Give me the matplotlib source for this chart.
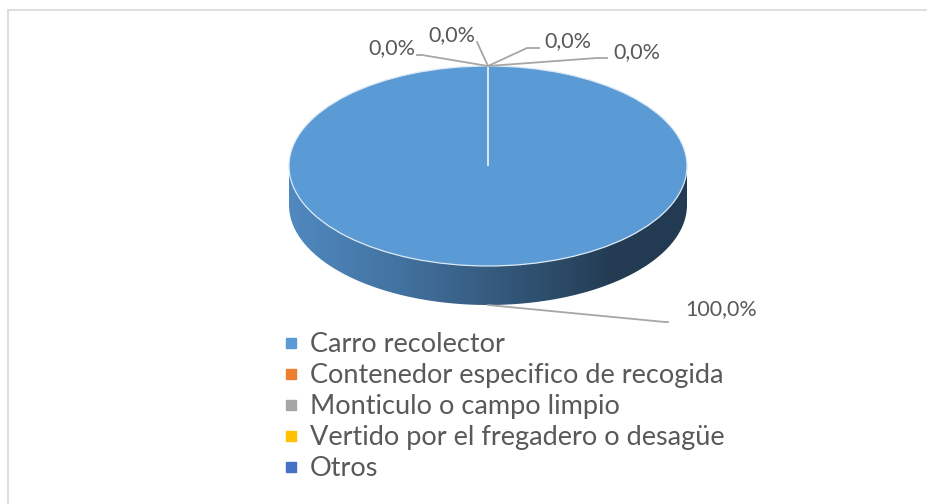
import numpy as np
import matplotlib
matplotlib.use('Agg')
import matplotlib.pyplot as plt
from matplotlib.lines import Line2D
from matplotlib.patches import Polygon
from matplotlib.colors import LinearSegmentedColormap

categories = ['Carro recolector', 'Contenedor especifico de recogida',
              'Monticulo o campo limpio', 'Vertido por el fregadero o desagüe', 'Otros']
values = [100.0, 0.0, 0.0, 0.0, 0.0]
colors = ['#5B9BD5', '#ED7D31', '#A5A5A5', '#FFC000', '#4472C4']

W, H = 928, 504
CX, CY = 488, 166      # pie centre, pixels from top-left
RX, RY = 199, 100      # ellipse radii in pixels
DEPTH = 0.39           # side height, in units of RY

plt.rcParams['font.family'] = ['Lato', 'DejaVu Sans']
TXT = '#595959'

fig = plt.figure(figsize=(W / 100, H / 100), dpi=100)
ax = fig.add_axes([0, 0, 1, 1])

def px(x, y):
    # pixel (from top-left) -> data coords
    return (x - CX) / RX, (CY - y) / RY

wedges, _ = ax.pie(values, colors=colors, startangle=90, counterclock=False,
                   radius=1, wedgeprops=dict(edgecolor='#dbe8f5', linewidth=0.9))
for w in wedges:
    w.set_zorder(3)
ax.set_aspect('auto')
x0, y0 = px(0, H)
x1, y1 = px(W, 0)
ax.set_xlim(x0, x1)
ax.set_ylim(y0, y1)
ax.axis('off')

# side of the 3D disc
t = np.linspace(np.pi, 2 * np.pi, 200)
top = np.column_stack([np.cos(t), np.sin(t)])
bot = np.column_stack([np.cos(t[::-1]), np.sin(t[::-1]) - DEPTH])
side = Polygon(np.vstack([top, bot]), closed=True, facecolor='none', edgecolor='none')
ax.add_patch(side)
cmap = LinearSegmentedColormap.from_list('side', [
    (0.0, '#5089c0'), (0.28, '#42729f'), (0.5, '#365b80'),
    (0.7, '#2a4864'), (0.8, '#243d54'), (1.0, '#233b52')])
grad = np.linspace(0, 1, 256).reshape(1, -1)
im = ax.imshow(grad, cmap=cmap, extent=[-1, 1, -1 - DEPTH, 0], aspect='auto',
               zorder=2, interpolation='bilinear')
im.set_clip_path(side)
ax.set_xlim(x0, x1)
ax.set_ylim(y0, y1)

# data labels
lead = '#A6A6A6'
fs_lab = 15.5
ang = np.deg2rad(wedges[1].theta1)
anchor_top = (np.cos(ang), np.sin(ang))
small_labels = [
    # (elbow, end, text pos)
    ((422, 55), (417, 55), (392, 48)),
    ((477, 42), (477, 42), (452, 35)),
    ((527, 48), (539, 48), (568, 41)),
    ((597, 58), (607, 58), (637, 52)),
]
for i, (elb, end, tp) in enumerate(small_labels):
    pts = [anchor_top, px(*elb), px(*end)]
    ax.plot([p[0] for p in pts], [p[1] for p in pts], color=lead, lw=1.3, zorder=4)
    ax.text(*px(*tp), f'{values[i + 1]:.1f}%'.replace('.', ','), ha='center', va='center',
            fontsize=fs_lab, color=TXT, zorder=5)

# 100% label
a0 = np.deg2rad((wedges[0].theta1 + wedges[0].theta2) / 2)
anchor_big = (np.cos(a0), np.sin(a0) - DEPTH)
pts = [anchor_big, px(665, 322), px(668, 322)]
ax.plot([p[0] for p in pts], [p[1] for p in pts], color=lead, lw=1.3, zorder=4)
ax.text(*px(721, 309), f'{values[0]:.1f}%'.replace('.', ','), ha='center', va='center',
        fontsize=fs_lab, color=TXT, zorder=5)

# legend
handles = [Line2D([], [], marker='s', linestyle='none', markersize=7,
                  markerfacecolor=c, markeredgecolor=c) for c in colors]
leg = fig.legend(handles, categories, loc='upper left',
                 bbox_to_anchor=(284 / W, 1 - 332 / H), frameon=False,
                 fontsize=19.5, labelcolor=TXT, handlelength=0.5, handletextpad=0.45,
                 labelspacing=0.225, borderpad=0, borderaxespad=0)

# chart area border (only top/left visible)
fig.add_artist(Line2D([8 / W, 8 / W], [0, 1 - 9.5 / H], color='#D9D9D9', lw=1.2))
fig.add_artist(Line2D([8 / W, 1], [1 - 9.5 / H, 1 - 9.5 / H], color='#D9D9D9', lw=1.2))

fig.savefig('out.png', dpi=100)
